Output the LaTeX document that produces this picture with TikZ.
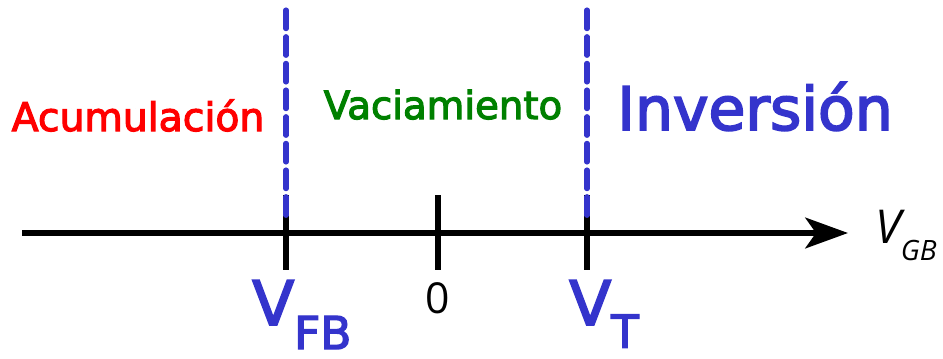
\documentclass[tikz,border=0pt]{standalone}
\usepackage{fontspec}
\setmainfont{Open Sans}
\newfontfamily\zonefont[FakeBold=3]{DejaVu Sans}
\usetikzlibrary{arrows.meta, positioning}
\definecolor{mosBlue}{HTML}{3434CC}
\definecolor{mosRed}{HTML}{FF0000}
\definecolor{mosGreen}{HTML}{008000}

\begin{document}
\begin{tikzpicture}[x=0.75pt, y=-0.75pt,
  axisline/.style={line width=4.2pt, -{Stealth[length=32pt, width=23pt, inset=8pt]}},
  tickmark/.style={line width=4.2pt},
  limitline/.style={draw=mosBlue, line width=3.8pt, line cap=round, dash pattern=on 14pt off 6pt},
  zone/.style={font=\zonefont\fontsize{#1}{#1}\selectfont, anchor=base, inner sep=0pt},
  voltlabel/.style={text=mosBlue, anchor=base west, inner sep=0pt, font=\zonefont\fontsize{46}{46}\selectfont}
]
  \useasboundingbox (0,0) rectangle (943,358);

  % axis
  \coordinate (axL) at (22,233);
  \coordinate (axR) at (848,233);
  \draw[axisline] (axL) -- (axR);
  \node[anchor=base west, inner sep=0pt, font=\fontsize{35}{35}\selectfont\itshape] (vgb) at (875,243)
    {V\raisebox{-13pt}{\fontsize{21}{21}\selectfont GB}};

  % ticks
  \coordinate (fbTop) at (286,195);
  \coordinate (fbBot) at (286,270);
  \coordinate (zeroTop) at (438,195);
  \coordinate (zeroBot) at (438,270);
  \coordinate (tTop) at (587,195);
  \coordinate (tBot) at (587,270);
  \draw[tickmark] (fbTop) -- (fbBot);
  \draw[tickmark] (zeroTop) -- (zeroBot);
  \draw[tickmark] (tTop) -- (tBot);

  % limits between regions
  \coordinate (fbUp) at (286,10);
  \coordinate (fbLow) at (286,220);
  \coordinate (tUp) at (587,10);
  \coordinate (tLow) at (587,220);
  \draw[limitline] (fbUp) -- (fbLow);
  \draw[limitline] (tUp) -- (tLow);

  % tick labels
  \node[voltlabel] (vfb) at (252,325) {V\raisebox{-18pt}{\fontsize{34}{34}\selectfont FB}};
  \node[anchor=base, inner sep=0pt, font=\fontsize{32}{32}\selectfont] (zero) at (438,313) {0};
  \node[voltlabel] (vt) at (569,325) {V\raisebox{-17pt}{\fontsize{34}{34}\selectfont T}};

  % regions
  \node[zone=29.5, text=mosRed] (acum) at (138,131) {Acumulación};
  \node[zone=29, text=mosGreen] (vac) at (443,119) {Vaciamiento};
  \node[zone=45, text=mosBlue] (inv) at (755,130) {Inversión};
\end{tikzpicture}
\end{document}
